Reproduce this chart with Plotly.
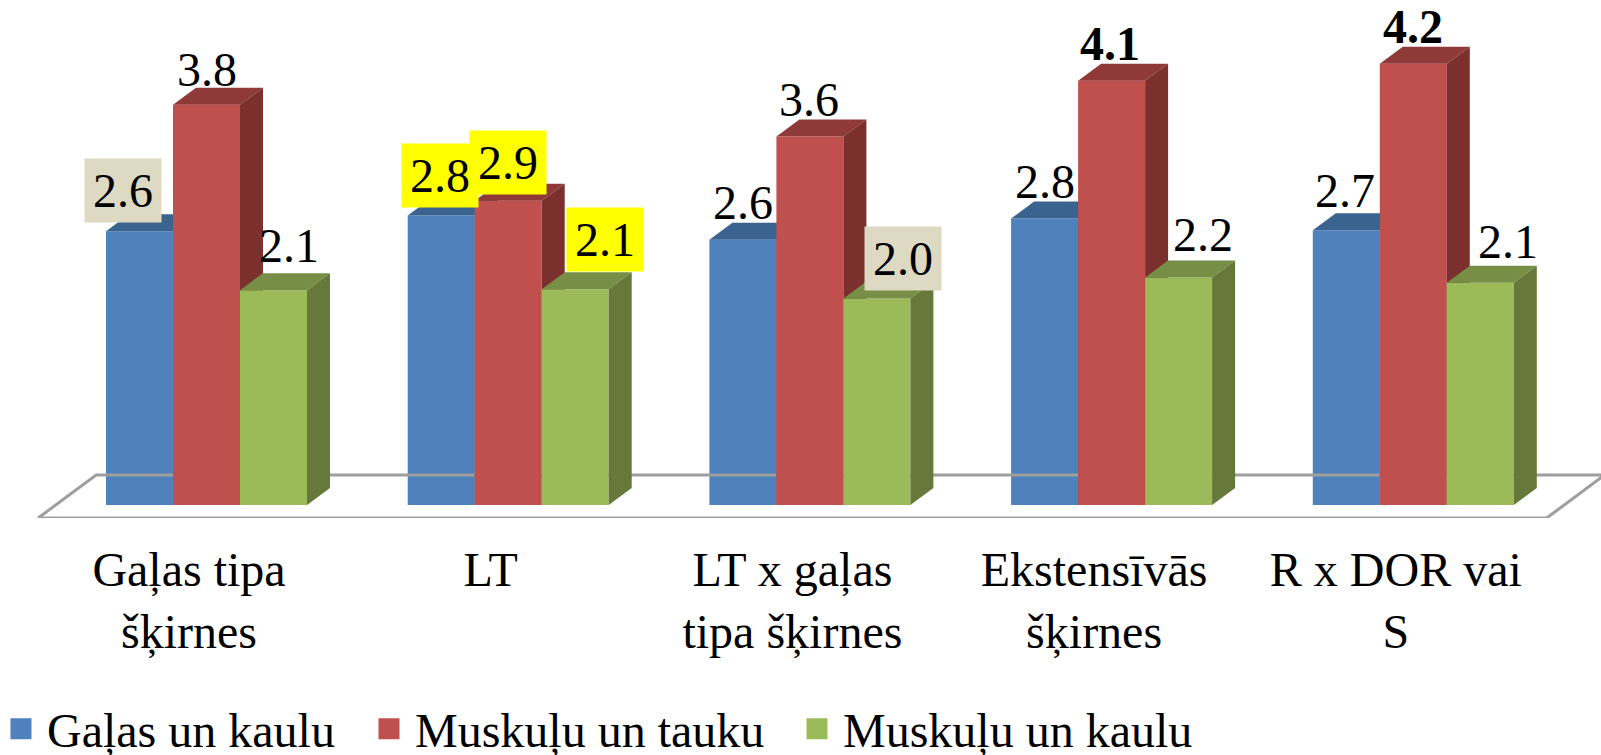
import plotly.graph_objects as go

categories = ["Gaļas tipa<br>šķirnes", "LT", "LT x gaļas<br>tipa šķirnes", "Ekstensīvās<br>šķirnes", "R x DOR vai<br>S"]
series_names = ["Gaļas un kaulu", "Muskuļu un tauku", "Muskuļu un kaulu"]
gala_kaulu = [2.60, 2.75, 2.52, 2.72, 2.61]
muskulu_tauku = [3.80, 2.89, 3.50, 4.03, 4.19]
muskulu_kaulu = [2.04, 2.05, 1.96, 2.16, 2.11]
labels_gala = ["2.6", "2.8", "2.6", "2.8", "2.7"]
labels_tauku = ["3.8", "2.9", "3.6", "4.1", "4.2"]
labels_kaulu = ["2.1", "2.1", "2.0", "2.2", "2.1"]

W, H = 1601, 755
FONT = "Liberation Serif"
FS = 48
CAT_PX = 301.7      # pixels per category
UNIT_PX = 105.3     # pixels per value unit
TICK0_PX = 189
FLOOR_FRONT_PX = 518
ZERO_PX = 505

front = ["#4F81BD", "#C0504D", "#9BBB59"]
top = ["#3B6390", "#8F3A38", "#768E45"]
side = ["#2F4F73", "#7B302E", "#66793A"]

values = [gala_kaulu, muskulu_tauku, muskulu_kaulu]
texts = [labels_gala, labels_tauku, labels_kaulu]

bar_w = 67 / CAT_PX
group_shift = 17.5 / CAT_PX
dx, dy = 23 / CAT_PX, 17 / UNIT_PX
axes = ["y", "y2", "y3"]

fig = go.Figure()

# floor
fd_x, fd_y = 58 / CAT_PX, 43 / UNIT_PX
fy0 = -(FLOOR_FRONT_PX - ZERO_PX) / UNIT_PX
fig.add_trace(go.Scatter(
    x=[-0.5, 4.5, 4.5 + fd_x, -0.5 + fd_x, -0.5],
    y=[fy0, fy0, fy0 + fd_y, fy0 + fd_y, fy0],
    mode="lines", line=dict(color="#9E9E9E", width=3),
    showlegend=False, hoverinfo="skip", cliponaxis=False, yaxis="y"))

for s, vals in enumerate(values):
    centers = [i + group_shift + (s - 1) * bar_w for i in range(len(vals))]
    fig.add_trace(go.Bar(x=centers, y=vals, width=bar_w, yaxis=axes[s],
                         marker=dict(color=front[s], line=dict(width=0)),
                         showlegend=False, name=series_names[s]))
    tx, ty, sx, sy = [], [], [], []
    for c, v in zip(centers, vals):
        x0, x1 = c - bar_w / 2, c + bar_w / 2
        tx += [x0, x1, x1 + dx, x0 + dx, x0, None]
        ty += [v, v, v + dy, v + dy, v, None]
        sx += [x1, x1 + dx, x1 + dx, x1, x1, None]
        sy += [0, dy, v + dy, v, 0, None]
    for xs, ys, col in ((tx, ty, top[s]), (sx, sy, side[s])):
        fig.add_trace(go.Scatter(x=xs, y=ys, mode="lines", fill="toself", fillcolor=col,
                                 line=dict(width=0, color=col), yaxis=axes[s],
                                 showlegend=False, hoverinfo="skip"))

# legend entries, one legend per series so each sits at its own place
legend_ids = ["legend", "legend2", "legend3"]
for s, name in enumerate(series_names):
    fig.add_trace(go.Scatter(x=[None], y=[None], mode="markers", name=name, legend=legend_ids[s],
                             marker=dict(symbol="square", size=16, color=front[s],
                                         line=dict(width=9, color=front[s]))))

# value labels: pixel shift from the top of each bar
shift_x = [[-17, -1, 0, 0, -1], [0, 0, -1, -2, 0], [15.5, 30, 26, 24, 27.5]]
shift_y = [[41, 40, 37, 37, 40], [35.5, 38, 37, 37, 37], [45, 50, 40, 43, 41]]
box = {(0, 0): "#DDD9C3", (2, 2): "#DDD9C3", (0, 1): "#FFFF00", (1, 1): "#FFFF00", (2, 1): "#FFFF00"}
bold = {(1, 3), (1, 4)}
annotations = []
for s, vals in enumerate(values):
    for i, v in enumerate(vals):
        b = box.get((s, i))
        t = texts[s][i]
        annotations.append(dict(
            x=i + group_shift + (s - 1) * bar_w, y=v, xref="x", yref="y",
            text=f"<b>{t}</b>" if (s, i) in bold else t,
            showarrow=False, xanchor="center", yanchor="middle",
            xshift=shift_x[s][i], yshift=shift_y[s][i],
            width=76, height=63, borderpad=0,
            bgcolor=b if b else "rgba(0,0,0,0)",
            font=dict(family=FONT, size=FS, color="#000000")))

yr = [-(FLOOR_FRONT_PX - ZERO_PX) / UNIT_PX, ZERO_PX / UNIT_PX]
ydom = [(H - FLOOR_FRONT_PX) / H, 1]
yax = dict(range=yr, domain=ydom, visible=False, fixedrange=True)


def legend_at(px):
    return dict(orientation="h", x=px / W, y=(H - 691) / H, xanchor="left", yanchor="top",
                itemwidth=42, font=dict(family=FONT, size=FS, color="#000000"),
                bgcolor="rgba(0,0,0,0)", itemclick=False, itemdoubleclick=False)


fig.update_layout(
    width=W, height=H, autosize=False,
    margin=dict(l=0, r=0, t=0, b=0, autoexpand=False),
    paper_bgcolor="white", plot_bgcolor="rgba(0,0,0,0)",
    barmode="overlay",
    font=dict(family=FONT, size=FS, color="#000000"),
    xaxis=dict(range=[-TICK0_PX / CAT_PX, (W - TICK0_PX) / CAT_PX], domain=[0, 1],
               tickmode="array", tickvals=list(range(5)), ticktext=categories,
               showgrid=False, zeroline=False, showline=False,
               ticks="outside", ticklen=9, tickcolor="rgba(0,0,0,0)",
               tickfont=dict(family=FONT, size=FS, color="#000000"), automargin=False),
    yaxis=yax,
    yaxis2=dict(yax, overlaying="y"),
    yaxis3=dict(yax, overlaying="y"),
    showlegend=True,
    legend=legend_at(-5),
    legend2=legend_at(363),
    legend3=legend_at(791),
    annotations=annotations,
)

fig.write_html("out.html", config={"displayModeBar": False},
               post_script="document.body.style.margin='0';document.body.style.overflow='hidden';")
